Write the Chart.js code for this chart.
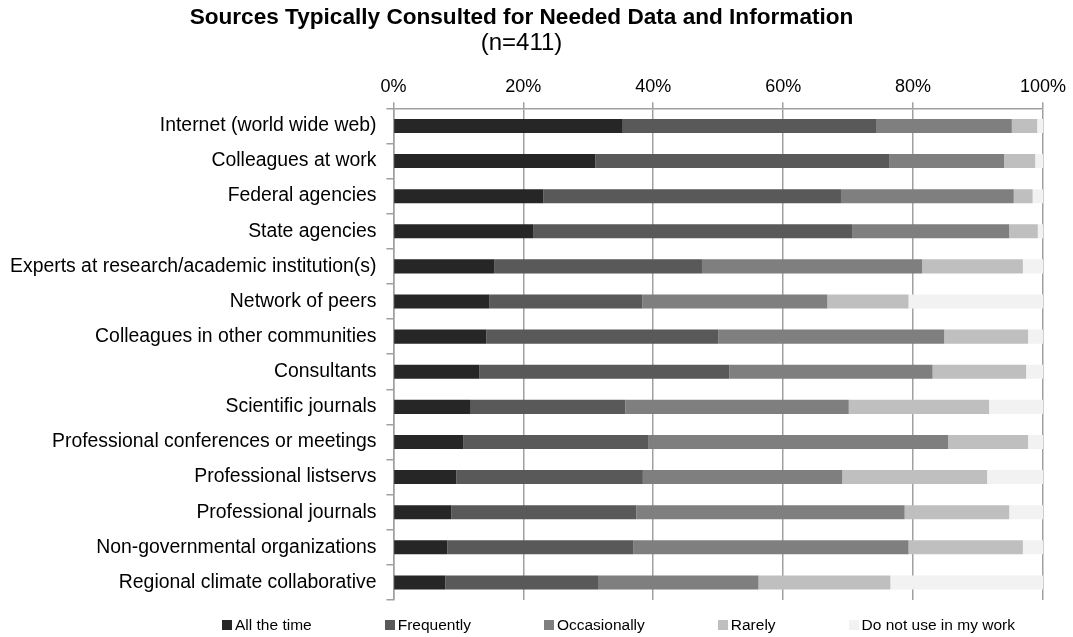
<!DOCTYPE html>
<html>
<head>
<meta charset="utf-8">
<title>Sources Typically Consulted for Needed Data and Information</title>
<script src="https://cdn.jsdelivr.net/npm/chart.js@4.4.1/dist/chart.umd.min.js"></script>
<style>
  html, body { margin: 0; padding: 0; background: #fff; }
  #wrap { position: relative; width: 1073px; height: 637px; }
  #legend {
    position: absolute; left: 222px; top: 615px;
    display: flex; gap: 73px;
    font: 15.5px 'Liberation Sans', Arial, sans-serif; color: #000; line-height: 20px;
  }
  .legend-item { display: flex; align-items: center; white-space: nowrap; }
  .legend-box { width: 10px; height: 10px; margin-right: 3px; }
</style>
</head>
<body>
<div id="wrap">
  <canvas id="chart" width="1073" height="637"></canvas>
  <div id="legend"></div>
</div>
<script>
// Survey answers, percent of respondents (n=411)
const categories = [
  'Internet (world wide web)',
  'Colleagues at work',
  'Federal agencies',
  'State agencies',
  'Experts at research/academic institution(s)',
  'Network of peers',
  'Colleagues in other communities',
  'Consultants',
  'Scientific journals',
  'Professional conferences or meetings',
  'Professional listservs',
  'Professional journals',
  'Non-governmental organizations',
  'Regional climate collaborative'
];

const allTheTime   = [35.3, 31.1, 23.1, 21.5, 15.5, 14.8, 14.3, 13.2, 11.9, 10.8,  9.7,  8.9,  8.3,  8.0];
const frequently   = [39.1, 45.2, 45.8, 49.2, 32.0, 23.5, 35.7, 38.5, 23.8, 28.4, 28.7, 28.5, 28.6, 23.6];
const occasionally = [20.8, 17.7, 26.6, 24.1, 33.9, 28.5, 34.8, 31.3, 34.4, 46.2, 30.7, 41.3, 42.4, 24.6];
const rarely       = [ 3.9,  4.8,  2.9,  4.4, 15.5, 12.5, 12.9, 14.4, 21.6, 12.3, 22.3, 16.1, 17.6, 20.3];
const doNotUse     = [ 0.9,  1.2,  1.6,  0.8,  3.1, 20.7,  2.3,  2.6,  8.3,  2.3,  8.6,  5.2,  3.1, 23.5];

const seriesNames = ['All the time', 'Frequently', 'Occasionally', 'Rarely', 'Do not use in my work'];
const seriesValues = [allTheTime, frequently, occasionally, rarely, doNotUse];
const seriesColors = ['#262626', '#595959', '#7f7f7f', '#bfbfbf', '#f2f2f2'];

const xMin = 0, xMax = 100, xStep = 20;

const FONT = "'Liberation Sans', Arial, sans-serif";
const GRID = '#a0a0a0';

// legend drawn as html so the item spacing can match the original
const htmlLegend = {
  id: 'htmlLegend',
  afterUpdate(chart) {
    const box = document.getElementById('legend');
    box.innerHTML = '';
    const items = chart.options.plugins.legend.labels.generateLabels(chart);
    items.forEach(item => {
      const el = document.createElement('div');
      el.className = 'legend-item';
      el.innerHTML = `<span class="legend-box" style="background:${item.fillStyle}"></span><span>${item.text}</span>`;
      box.appendChild(el);
    });
  }
};

new Chart(document.getElementById('chart'), {
  type: 'bar',
  data: {
    labels: categories,
    datasets: seriesNames.map((name, i) => ({
      label: name,
      data: seriesValues[i],
      backgroundColor: seriesColors[i],
      borderWidth: 0,
      categoryPercentage: 1,
      barPercentage: 0.4
    }))
  },
  options: {
    indexAxis: 'y',
    responsive: false,
    animation: false,
    layout: { padding: { left: 0, right: 30, top: 0, bottom: 37 } },
    plugins: {
      legend: { display: false },
      tooltip: { enabled: false },
      title: {
        display: true,
        text: 'Sources Typically Consulted for Needed Data and Information',
        color: '#000',
        font: { family: FONT, size: 22.6, weight: 'bold', lineHeight: 1.1 },
        padding: { top: 5, bottom: 0 }
      },
      subtitle: {
        display: true,
        text: '(n=411)',
        color: '#000',
        font: { family: FONT, size: 24, lineHeight: 1.1 },
        padding: { top: 0, bottom: 14.5 }
      }
    },
    scales: {
      x: {
        position: 'top',
        stacked: true,
        min: xMin,
        max: xMax,
        ticks: {
          stepSize: xStep,
          color: '#000',
          font: { family: FONT, size: 18 },
          padding: 5,
          callback: v => v + '%'
        },
        grid: { color: GRID, lineWidth: 1.5, tickLength: 6 },
        border: { color: GRID, width: 1.5 }
      },
      y: {
        stacked: true,
        ticks: {
          autoSkip: false,
          color: '#000',
          font: { family: FONT, size: 19.4 },
          padding: 10
        },
        grid: { drawOnChartArea: false, color: GRID, lineWidth: 1.5, tickLength: 7 },
        border: { color: GRID, width: 1.5 }
      }
    }
  },
  plugins: [htmlLegend]
});
</script>
</body>
</html>
